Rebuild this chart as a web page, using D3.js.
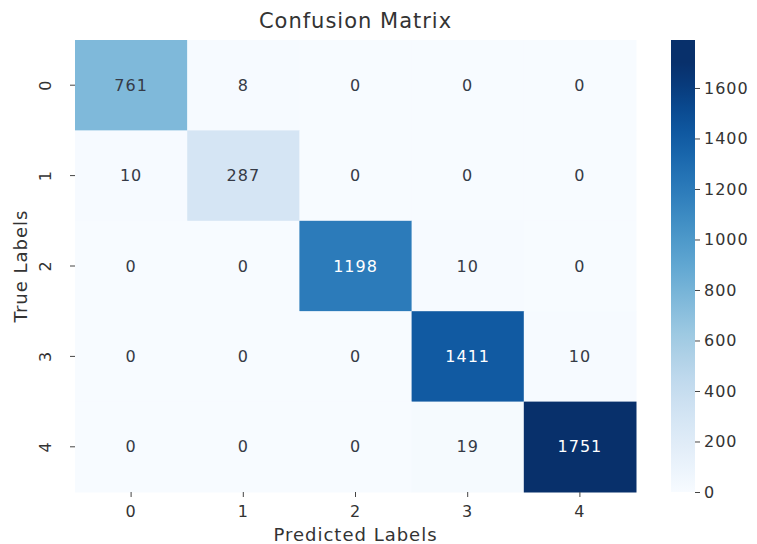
<!DOCTYPE html>
<html><head><meta charset="utf-8">
<script src="https://cdn.jsdelivr.net/npm/d3@7"></script>
<style>body{margin:0;background:#fff;font-family:"DejaVu Sans",sans-serif;} text{letter-spacing:1px;}</style>
</head><body><svg id="c" width="757" height="544"></svg>
<script>
const labels = ["0","1","2","3","4"];
const matrix = [
  [761, 8, 0, 0, 0],
  [10, 287, 0, 0, 0],
  [0, 0, 1198, 10, 0],
  [0, 0, 0, 1411, 10],
  [0, 0, 0, 19, 1751]
];
const cbarTicks = [0,200,400,600,800,1000,1200,1400,1600];

const svg = d3.select("#c");
const L=75, R=636, T=40, B=492;
const x = d3.scaleBand().domain(labels).range([L,R]);
const y = d3.scaleBand().domain(labels).range([T,B]);
const vmax = d3.max(matrix.flat());
const color = v => d3.interpolateBlues(Math.min(1, v/vmax*1.04));

const cells = [];
matrix.forEach((row,i)=>row.forEach((v,j)=>cells.push({r:labels[i],c:labels[j],v})));

svg.selectAll("rect.cell").data(cells).join("rect")
  .attr("x",d=>x(d.c)).attr("y",d=>y(d.r))
  .attr("width",x.bandwidth()+0.5).attr("height",y.bandwidth()+0.5)
  .attr("fill",d=>color(d.v));

function textColor(v){
  const c = d3.rgb(color(v));
  const lum = 0.2126*Math.pow(c.r/255,2.2)+0.7152*Math.pow(c.g/255,2.2)+0.0722*Math.pow(c.b/255,2.2);
  return lum > 0.408 ? "#353a46" : "#ffffff";
}
svg.selectAll("text.ann").data(cells).join("text")
  .attr("x",d=>x(d.c)+x.bandwidth()/2).attr("y",d=>y(d.r)+y.bandwidth()/2)
  .attr("text-anchor","middle").attr("dominant-baseline","central")
  .attr("font-size",16).attr("fill",d=>textColor(d.v)).text(d=>d.v);

// x axis
const xa = svg.append("g").attr("transform",`translate(0,${B})`)
  .call(d3.axisBottom(x).tickSize(5).tickPadding(9));
xa.select(".domain").remove();
xa.selectAll("text").attr("font-size",16).attr("fill","#333").attr("font-family","DejaVu Sans");
xa.selectAll("line").attr("stroke","#444");

// y axis
const ya = svg.append("g").attr("transform",`translate(${L},0)`)
  .call(d3.axisLeft(y).tickSize(5).tickPadding(8));
ya.select(".domain").remove();
ya.selectAll("line").attr("stroke","#444");
ya.selectAll("text").attr("font-size",16).attr("fill","#333").attr("font-family","DejaVu Sans")
  .attr("text-anchor","middle").attr("dy",null).attr("dominant-baseline","central")
  .attr("transform","translate(-30,0) rotate(-90)").attr("x",0);

svg.append("text").attr("x",(L+R)/2).attr("y",28).attr("text-anchor","middle")
  .attr("font-size",21).attr("fill","#333").text("Confusion Matrix");
svg.append("text").attr("x",(L+R)/2).attr("y",541).attr("text-anchor","middle")
  .attr("font-size",18).attr("fill","#333").text("Predicted Labels");
svg.append("text").attr("transform",`translate(27,${(T+B)/2}) rotate(-90)`).attr("text-anchor","middle")
  .attr("font-size",18).attr("fill","#333").text("True Labels");

// colorbar
const CX=671, CW=24;
const cs = d3.scaleLinear().domain([0,1790]).range([B,T]);
const defs = svg.append("defs");
const grad = defs.append("linearGradient").attr("id","g").attr("x1",0).attr("x2",0).attr("y1",1).attr("y2",0);
d3.range(0,1.0001,0.05).forEach(t=>{
  const v = cs.invert(B - t*(B-T));
  grad.append("stop").attr("offset",t).attr("stop-color",color(Math.min(v,vmax)));
});
svg.append("rect").attr("x",CX).attr("y",T).attr("width",CW).attr("height",B-T).attr("fill","url(#g)");
const ca = svg.append("g").attr("transform",`translate(${CX+CW},0)`)
  .call(d3.axisRight(cs).tickValues(cbarTicks).tickFormat(d3.format("d")).tickSize(5).tickPadding(4));
ca.select(".domain").remove();
ca.selectAll("line").attr("stroke","#444");
ca.selectAll("text").attr("font-size",16).attr("fill","#333").attr("font-family","DejaVu Sans");
</script></body></html>
